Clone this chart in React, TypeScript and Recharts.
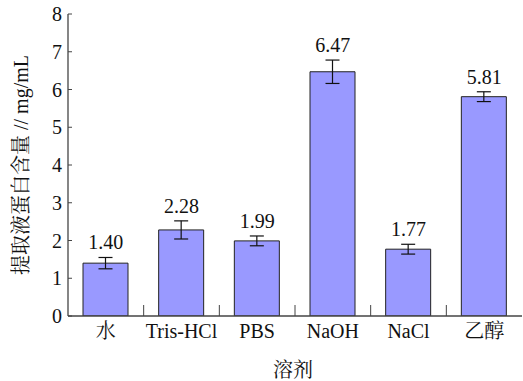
import React from 'react';
import { ComposedChart, Bar, Line, XAxis, YAxis, ErrorBar, LabelList, Label } from 'recharts';

const categories = ['水', 'Tris-HCl', 'PBS', 'NaOH', 'NaCl', '乙醇'];
const values = [1.40, 2.28, 1.99, 6.47, 1.77, 5.81];
const errors = [0.15, 0.24, 0.13, 0.31, 0.13, 0.13];
const labels = ['1.40', '2.28', '1.99', '6.47', '1.77', '5.81'];
const yTicks = [0, 1, 2, 3, 4, 5, 6, 7, 8];

const data = categories.map((c, i) => ({
  name: c,
  value: values[i],
  err: errors[i],
  top: values[i] + errors[i],
  label: labels[i],
}));

const FONT = '"Liberation Serif", "Times New Roman", "Noto Serif CJK SC", "Noto Sans CJK SC", serif';

const CategoryTick = (props: any) => {
  const { x, y, payload, index, visibleTicksCount } = props;
  const half = payload && typeof payload.offset === 'number' ? payload.offset : 0;
  const isLast = index === (visibleTicksCount ?? categories.length) - 1;
  const axisY = y - 8;
  return (
    <g>
      {!isLast && half > 0 && (
        <line x1={x + half} x2={x + half} y1={axisY} y2={axisY - 11} stroke="#444" strokeWidth={1} />
      )}
      <text x={x} y={y} dy="0.71em" textAnchor="middle" fill="#111" fontSize={20} fontFamily={FONT}>
        {payload.value}
      </text>
    </g>
  );
};

export default function App() {
  return (
    <div style={{ position: 'absolute', left: 0, top: 0 }}>
      <ComposedChart
        width={523}
        height={381}
        data={data}
        margin={{ top: 14, right: 1, bottom: 0, left: 0 }}
        style={{ fontFamily: FONT }}
      >
        <XAxis
          dataKey="name"
          height={65}
          tickLine={false}
          tickSize={0}
          tickMargin={8}
          axisLine={{ stroke: '#444', strokeWidth: 1.3 }}
          tick={<CategoryTick />}
          interval={0}
        >
          <Label
            content={({ viewBox }: any) => (
              <text
                x={viewBox.x + viewBox.width / 2 - 2}
                y={370}
                textAnchor="middle"
                dominantBaseline="central"
                fontSize={20}
                fill="#111"
                fontFamily={FONT}
              >
                溶剂
              </text>
            )}
          />
        </XAxis>
        <YAxis
          width={68}
          domain={[0, 8]}
          ticks={yTicks}
          tickSize={-4}
          tickMargin={10}
          axisLine={{ stroke: '#444', strokeWidth: 1.3 }}
          tickLine={{ stroke: '#444', strokeWidth: 1 }}
          tick={{ fill: '#111', fontSize: 20, fontFamily: FONT }}
          allowDataOverflow
        >
          <Label
            content={() => (
              <text
                x={21}
                y={165}
                transform="rotate(-90, 21, 165)"
                textAnchor="middle"
                dominantBaseline="central"
                fontSize={20}
                fill="#111"
                fontFamily={FONT}
              >
                提取液蛋白含量 // mg/mL
              </text>
            )}
          />
        </YAxis>
        <Bar
          dataKey="value"
          fill="#9999ff"
          stroke="#222"
          strokeWidth={1}
          barSize={45}
          isAnimationActive={false}
        >
          <ErrorBar dataKey="err" width={7} stroke="#111" strokeWidth={1.2} />
        </Bar>
        <Line
          dataKey="top"
          stroke="none"
          dot={false}
          activeDot={false}
          legendType="none"
          isAnimationActive={false}
        >
          <LabelList
            dataKey="label"
            position="top"
            offset={8}
            fill="#111"
            fontSize={20}
            fontFamily={FONT}
          />
        </Line>
      </ComposedChart>
    </div>
  );
}
